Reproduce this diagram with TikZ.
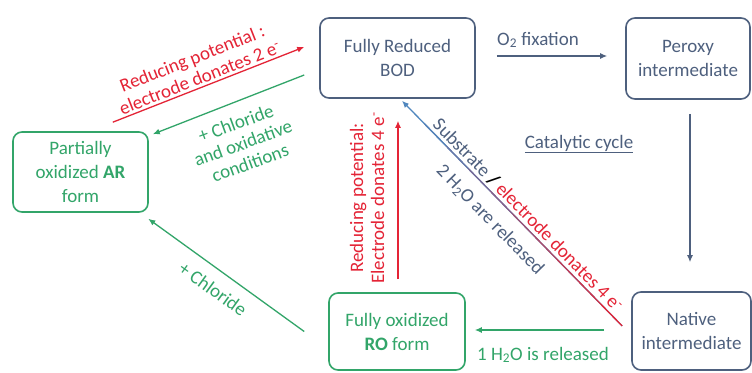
\documentclass[tikz,border=0pt]{standalone}
\usepackage{fontspec}
\setmainfont{Carlito}
\usetikzlibrary{arrows.meta, positioning, calc}
\definecolor{slate}{RGB}{78,96,126}
\definecolor{tipblue}{RGB}{80,135,190}
\definecolor{formgreen}{RGB}{50,165,105}
\definecolor{potred}{RGB}{228,36,54}

\begin{document}
\begin{tikzpicture}[
    x=1pt, y=-1pt,
    >={Latex[width=6pt,length=7pt]},
    state/.style={rectangle, draw, line width=1.6pt, rounded corners=9pt, align=center, inner sep=2pt, font=\fontsize{19}{24}\selectfont},
    cyclebox/.style={state, draw=slate, text=slate},
    formbox/.style={state, draw=formgreen, text=formgreen},
    lbl/.style={align=center, inner sep=0pt, font=\fontsize{19}{21}\selectfont},
    line/.style={draw, ->, line width=1.3pt}
]
    \path[use as bounding box, fill=white] (0,0) rectangle (752,372);

    \node (reduced) [cyclebox, minimum width=155, minimum height=80] at (397.5,58) {Fully Reduced\\BOD};
    \node (peroxy) [cyclebox, minimum width=124, minimum height=81] at (688,58.5) {Peroxy\\intermediate};
    \node (native) [cyclebox, minimum width=119, minimum height=78] at (691.5,331) {Native\\intermediate};
    \node (partial) [formbox, minimum width=135, minimum height=80] at (80.5,172) {Partially\\oxidized \textbf{AR}\\form};
    \node (ro) [formbox, minimum width=136, minimum height=77] at (397,331.5) {Fully oxidized\\\textbf{RO} form};

    % reduction / oxidation of the resting forms
    \draw[line, potred] ($(partial.north east)+(-36,-9)$) -- ($(reduced.west)+(-15,-11)$);
    \draw[line, formgreen] ($(reduced.west)+(-15,17)$) -- ($(partial.north east)+(4,3)$);
    \draw[line, formgreen] ($(ro.west)+(-24,0)$) -- ($(partial.south east)+(-0.5,6)$);
    \draw[line, potred] ($(ro.north)+(1,-13)$) -- ($(reduced.south)+(0.5,22)$);

    % catalytic cycle
    \draw[line, slate] ($(reduced.east)+(21,-2)$) -- ($(peroxy.west)+(-18,-2.5)$);
    \draw[line, slate] ($(peroxy.south)+(2,14)$) -- ($(native.north)+(-1.5,-29)$);
    \draw[line, formgreen] ($(native.west)+(-27,-1)$) -- ($(ro.east)+(9,-1.5)$);

    \coordinate (dstart) at ($(native.west)+(-9,-5)$);
    \coordinate (dend) at ($(reduced.south)+(4.5,2)$);
    \draw[line, tipblue] (dstart) -- (dend);
    \foreach \i in {0,...,8}{
        \pgfmathsetmacro{\p}{100-\i*12}
        \draw[line width=1.3pt, potred!\p!tipblue] ($(dstart)!\i/10!(dend)$) -- ($(dstart)!\i/10+0.1!(dend)$);
    }

    \node (redlbl) [lbl, text=potred, rotate=21.5] at (196,68) {Reducing potential :\\electrode donates 2 e\textsuperscript{-}};
    \node (greenlbl) [lbl, text=formgreen, rotate=20] at (243,143) {+ Chloride\\and oxidative\\conditions};
    \node (chllbl) [lbl, text=formgreen, rotate=-36] at (213,289) {+ Chloride};
    \node (vertlbl) [lbl, text=potred, rotate=90] at (367,198) {Reducing potential:\\Electrode donates 4 e\textsuperscript{-}};
    \node (o2lbl) [lbl, text=slate] at (538,40) {O\textsubscript{2} fixation};
    \node (cyclelbl) [lbl, text=slate] at (579,144) {\underline{Catalytic cycle}};
    \node (sublbl) [lbl, rotate=-45.6] at (528,215) {\textcolor{slate}{Substrate} \textbf{/} \textcolor{potred}{electrode donates 4 e\textsuperscript{-}}};
    \node (waterlbl) [lbl, text=slate, rotate=-45.6] at (490,220) {2 H\textsubscript{2}O are released};
    \node (h2olbl) [lbl, text=formgreen] at (543,355) {1 H\textsubscript{2}O is released};

\end{tikzpicture}
\end{document}
